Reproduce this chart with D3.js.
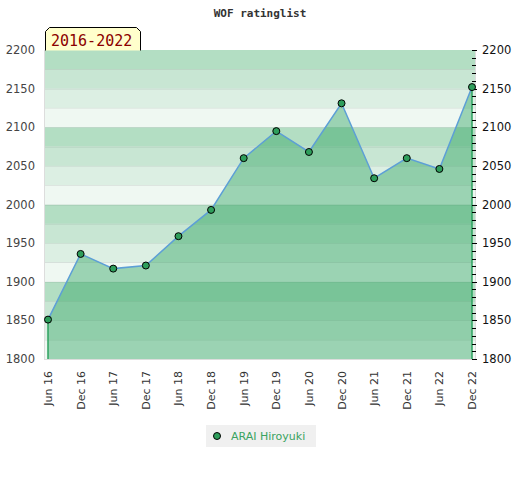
<!DOCTYPE html>
<html>
<head>
<meta charset="utf-8">
<script src="https://cdn.jsdelivr.net/npm/d3@7"></script>
<style>
  body { margin: 0; background: #fff; }
  svg text { font-family: "DejaVu Sans", sans-serif; }
</style>
</head>
<body>
<svg id="chart" width="520" height="480"></svg>
<script>
// dados
const periodos = ["Jun 16","Dec 16","Jun 17","Dec 17","Jun 18","Dec 18","Jun 19",
                  "Dec 19","Jun 20","Dec 20","Jun 21","Dec 21","Jun 22","Dec 22"];
const ratings  = [1851, 1936, 1917, 1921, 1959, 1993, 2060,
                  2095, 2068, 2131, 2034, 2060, 2046, 2152];
const ticks_y  = [1800, 1850, 1900, 1950, 2000, 2050, 2100, 2150, 2200];
const jogador  = "ARAI Hiroyuki";
const titulo   = "WOF ratinglist";
const faixa    = "2016-2022";

// margens da area do grafico
const PLOT = { x0: 45, x1: 475, y0: 50, y1: 359 };

const $svg = d3.select("#chart");

const scale_x = d3.scalePoint()
  .domain(periodos)
  .range([48, 472]);

const scale_y = d3.scaleLinear()
  .domain([1800, 2200])
  .range([PLOT.y1, PLOT.y0]);

// faixas de fundo, 25 pontos cada
const cores_faixa = ["#b3dec3", "#c8e6d3", "#dcefe3", "#eff8f2"];
const faixas = d3.range(1800, 2200, 25);

$svg.append("rect")
  .attr("x", PLOT.x0 - 1).attr("y", PLOT.y0)
  .attr("width", PLOT.x1 - PLOT.x0 + 2).attr("height", PLOT.y1 - PLOT.y0 + 1)
  .attr("fill", "#dddddd");

$svg.selectAll("rect.faixa")
  .data(faixas)
  .enter()
  .append("rect")
  .classed("faixa", true)
  .attr("x", PLOT.x0)
  .attr("y", d => scale_y(d + 25))
  .attr("width", PLOT.x1 - PLOT.x0)
  .attr("height", d => scale_y(d) - scale_y(d + 25))
  .attr("fill", d => cores_faixa[3 - ((d - 1800) / 25) % 4]);

$svg.selectAll("line.sep")
  .data(faixas.slice(1))
  .enter()
  .append("line")
  .classed("sep", true)
  .attr("x1", PLOT.x0).attr("x2", PLOT.x1)
  .attr("y1", d => Math.round(scale_y(d)) + 0.5)
  .attr("y2", d => Math.round(scale_y(d)) + 0.5)
  .attr("stroke", "#000").attr("stroke-opacity", 0.05);

// area + linha
const pontos = periodos.map((p, i) => ({ p: p, v: ratings[i] }));

const area = d3.area()
  .x(d => scale_x(d.p))
  .y0(scale_y(1800))
  .y1(d => scale_y(d.v));

$svg.append("path")
  .datum(pontos)
  .attr("d", area)
  .attr("fill", "#2ca25f")
  .attr("fill-opacity", 0.43);

// linhas verticais nas pontas
[pontos[0], pontos[pontos.length - 1]].forEach(d => {
  $svg.append("line")
    .attr("x1", scale_x(d.p)).attr("x2", scale_x(d.p))
    .attr("y1", scale_y(d.v)).attr("y2", scale_y(1800))
    .attr("stroke", "#2ca25f").attr("stroke-width", 1.5);
});

const linha = d3.line()
  .x(d => scale_x(d.p))
  .y(d => scale_y(d.v));

$svg.append("path")
  .datum(pontos)
  .attr("d", linha)
  .attr("fill", "none")
  .attr("stroke", "#5d9fd6")
  .attr("stroke-width", 1.5);

// ticks menores no lado direito
$svg.selectAll("line.tick_dir")
  .data(d3.range(1800, 2201, 10))
  .enter()
  .append("line")
  .classed("tick_dir", true)
  .attr("x1", 472).attr("x2", d => d % 50 == 0 ? 477 : 476)
  .attr("y1", d => Math.round(scale_y(d)) + 0.5)
  .attr("y2", d => Math.round(scale_y(d)) + 0.5)
  .attr("stroke", "#000").attr("stroke-width", 1);

$svg.selectAll("circle.ponto")
  .data(pontos)
  .enter()
  .append("circle")
  .classed("ponto", true)
  .attr("cx", d => scale_x(d.p))
  .attr("cy", d => scale_y(d.v))
  .attr("r", 3.5)
  .attr("fill", "#2e9e5b")
  .attr("stroke", "#000")
  .attr("stroke-width", 1);

// eixos y (esquerda e direita)
$svg.selectAll("text.y_esq")
  .data(ticks_y)
  .enter()
  .append("text")
  .classed("y_esq", true)
  .attr("x", 35)
  .attr("y", d => scale_y(d) + 4)
  .attr("text-anchor", "end")
  .attr("font-size", 11.5)
  .attr("fill", "#444")
  .text(d => d);

$svg.selectAll("text.y_dir")
  .data(ticks_y)
  .enter()
  .append("text")
  .classed("y_dir", true)
  .attr("x", 482)
  .attr("y", d => scale_y(d) + 4)
  .attr("font-size", 11.5)
  .attr("fill", "#111")
  .text(d => d);

// eixo x, rotulos rotacionados
$svg.selectAll("text.x_lab")
  .data(periodos)
  .enter()
  .append("text")
  .classed("x_lab", true)
  .attr("transform", d => `translate(${scale_x(d) + 4},371) rotate(-90)`)
  .attr("text-anchor", "end")
  .attr("font-size", 11)
  .attr("fill", "#333")
  .text(d => d);

// titulo
$svg.append("text")
  .attr("x", 260).attr("y", 17)
  .attr("text-anchor", "middle")
  .style("font-family", "'DejaVu Sans Mono', monospace")
  .attr("font-weight", "bold")
  .attr("font-size", 11)
  .attr("fill", "#333")
  .text(titulo);

// selo do periodo
$svg.append("path")
  .attr("d", "M45.5,50.5 L45.5,31.5 L49.5,27.5 L136.5,27.5 L140.5,31.5 L140.5,50.5")
  .attr("fill", "#ffffcc")
  .attr("stroke", "#000")
  .attr("stroke-width", 1);

$svg.append("text")
  .attr("x", 51).attr("y", 46)
  .style("font-family", "'DejaVu Sans Mono', monospace")
  .attr("font-size", 15)
  .attr("fill", "#8b0000")
  .text(faixa);

// legenda
$svg.append("rect")
  .attr("x", 206).attr("y", 425)
  .attr("width", 110).attr("height", 22)
  .attr("fill", "#f0f0f0");

$svg.append("circle")
  .attr("cx", 217).attr("cy", 436).attr("r", 3.5)
  .attr("fill", "#2e9e5b").attr("stroke", "#000");

$svg.append("text")
  .attr("x", 231).attr("y", 440)
  .attr("font-size", 11)
  .attr("fill", "#3aa35f")
  .text(jogador);
</script>
</body>
</html>
